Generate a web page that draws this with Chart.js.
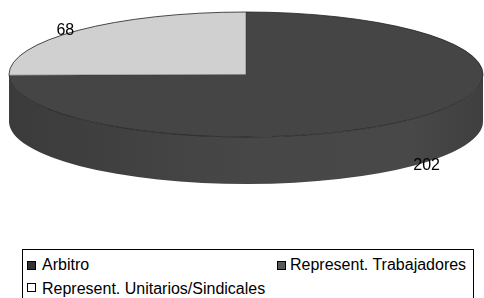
<!DOCTYPE html>
<html><head><meta charset="utf-8">
<script src="https://cdn.jsdelivr.net/npm/chart.js@4/dist/chart.umd.min.js"></script>
<style>
html,body{margin:0;padding:0;background:#fff;overflow:hidden;width:484px;height:298px;}
#wrap{position:absolute;left:0;top:0;width:484px;height:484px;}
#legend{position:absolute;left:22px;top:249px;width:452px;height:60px;border:1px solid #000;box-sizing:border-box;font-family:"Liberation Sans",Arial,sans-serif;font-size:16px;color:#000;background:#fff;}
.item{position:absolute;white-space:nowrap;line-height:18px;}
.sw{position:absolute;width:9px;height:9px;border:1px solid #000;box-sizing:border-box;}
</style></head><body>
<div id="wrap"><canvas id="c" width="484" height="484"></canvas></div>
<div id="legend"></div>
<script>
const categories = ['Arbitro', 'Represent. Trabajadores', 'Represent. Unitarios/Sindicales'];
const values = [0, 202, 68];
const sliceColors = ['#2b2b2b', '#454545', '#d0d0d0'];
const legendColors = ['#333333', '#595959', '#ffffff'];

// legend (HTML, real text)
const legendPos = [
  {sx:4, sy:11, tx:19, ty:6},
  {sx:254, sy:11, tx:267, ty:6},
  {sx:4, sy:33, tx:19, ty:30}
];
const leg = document.getElementById('legend');
categories.forEach((c,i)=>{
  const p = legendPos[i];
  const s = document.createElement('div'); s.className='sw';
  s.style.left=p.sx+'px'; s.style.top=p.sy+'px'; s.style.background=legendColors[i];
  leg.appendChild(s);
  const t = document.createElement('div'); t.className='item';
  t.style.left=p.tx+'px'; t.style.top=p.ty+'px'; t.textContent=c;
  leg.appendChild(t);
});

const G = {cx:246, cy:74.5, rx:237, ry:62.5, depth:47};

function shade(hex, f){
  const n=parseInt(hex.slice(1),16);
  const r=Math.round(((n>>16)&255)*f), g=Math.round(((n>>8)&255)*f), b=Math.round((n&255)*f);
  return 'rgb('+Math.min(255,r)+','+Math.min(255,g)+','+Math.min(255,b)+')';
}

function drawSide(ctx, a, b, color){
  const grad = ctx.createLinearGradient(G.cx-G.rx,0,G.cx+G.rx,0);
  grad.addColorStop(0, shade(color,0.86));
  grad.addColorStop(0.5, shade(color,1.03));
  grad.addColorStop(0.85, shade(color,1.04));
  grad.addColorStop(1, shade(color,0.92));
  ctx.beginPath();
  ctx.ellipse(G.cx, G.cy, G.rx, G.ry, 0, a, b, false);
  ctx.lineTo(G.cx+G.rx*Math.cos(b), G.cy+G.depth+G.ry*Math.sin(b));
  ctx.ellipse(G.cx, G.cy+G.depth, G.rx, G.ry, 0, b, a, true);
  ctx.closePath();
  ctx.fillStyle=grad;
  ctx.fill();
}

const pie3d = {
  id:'pie3d',
  beforeDatasetsDraw(chart){
    const ctx=chart.ctx; const meta=chart.getDatasetMeta(0);
    ctx.save();
    meta.data.forEach((arc,i)=>{
      const p=arc.getProps(['startAngle','endAngle'],true);
      if (p.endAngle-p.startAngle<=0) return;
      for (const k of [-2*Math.PI,0,2*Math.PI]){
        const a=Math.max(p.startAngle,k), b=Math.min(p.endAngle,k+Math.PI);
        if (b>a) drawSide(ctx,a,b,sliceColors[i]);
      }
    });
    ctx.restore();
    const p0=meta.data[0].getProps(['x','y','outerRadius'],true);
    const sx=G.rx/p0.outerRadius, sy=G.ry/p0.outerRadius;
    ctx.save();
    ctx.setTransform(sx,0,0,sy,G.cx-sx*p0.x,G.cy-sy*p0.y);
  },
  afterDatasetsDraw(chart){
    const ctx=chart.ctx; const meta=chart.getDatasetMeta(0);
    ctx.restore();
    ctx.save();
    // slice boundaries on top
    ctx.strokeStyle='rgba(40,40,40,0.6)'; ctx.lineWidth=0.7;
    meta.data.forEach((arc,i)=>{
      const p=arc.getProps(['startAngle','endAngle'],true);
      if (p.endAngle-p.startAngle<=0) return;
      ctx.beginPath();
      ctx.moveTo(G.cx,G.cy);
      ctx.lineTo(G.cx+G.rx*Math.cos(p.startAngle), G.cy+G.ry*Math.sin(p.startAngle));
      ctx.stroke();
    });
    // rim
    ctx.strokeStyle='#222'; ctx.lineWidth=0.8;
    ctx.beginPath(); ctx.ellipse(G.cx,G.cy,G.rx,G.ry,0,0,Math.PI*2); ctx.stroke();
    // labels
    ctx.fillStyle='#000'; ctx.font='16px "Liberation Sans", Arial, sans-serif';
    ctx.textAlign='center'; ctx.textBaseline='middle';
    meta.data.forEach((arc,i)=>{
      if (!values[i]) return;
      const p=arc.getProps(['startAngle','endAngle'],true);
      const m=(p.startAngle+p.endAngle)/2;
      const c=Math.cos(m), s=Math.sin(m);
      let x=G.cx+G.rx*c+c*17, y=G.cy+G.ry*s;
      if (s>0) y+=G.depth;
      ctx.fillText(String(values[i]), x, y);
    });
    ctx.restore();
  }
};

new Chart(document.getElementById('c'), {
  type:'pie',
  data:{labels:categories, datasets:[{data:values, backgroundColor:sliceColors, borderWidth:0, clip:false}]},
  options:{
    responsive:false, animation:false,
    layout:{padding:0},
    plugins:{legend:{display:false}, tooltip:{enabled:false}}
  },
  plugins:[pie3d]
});
</script>
</body></html>
